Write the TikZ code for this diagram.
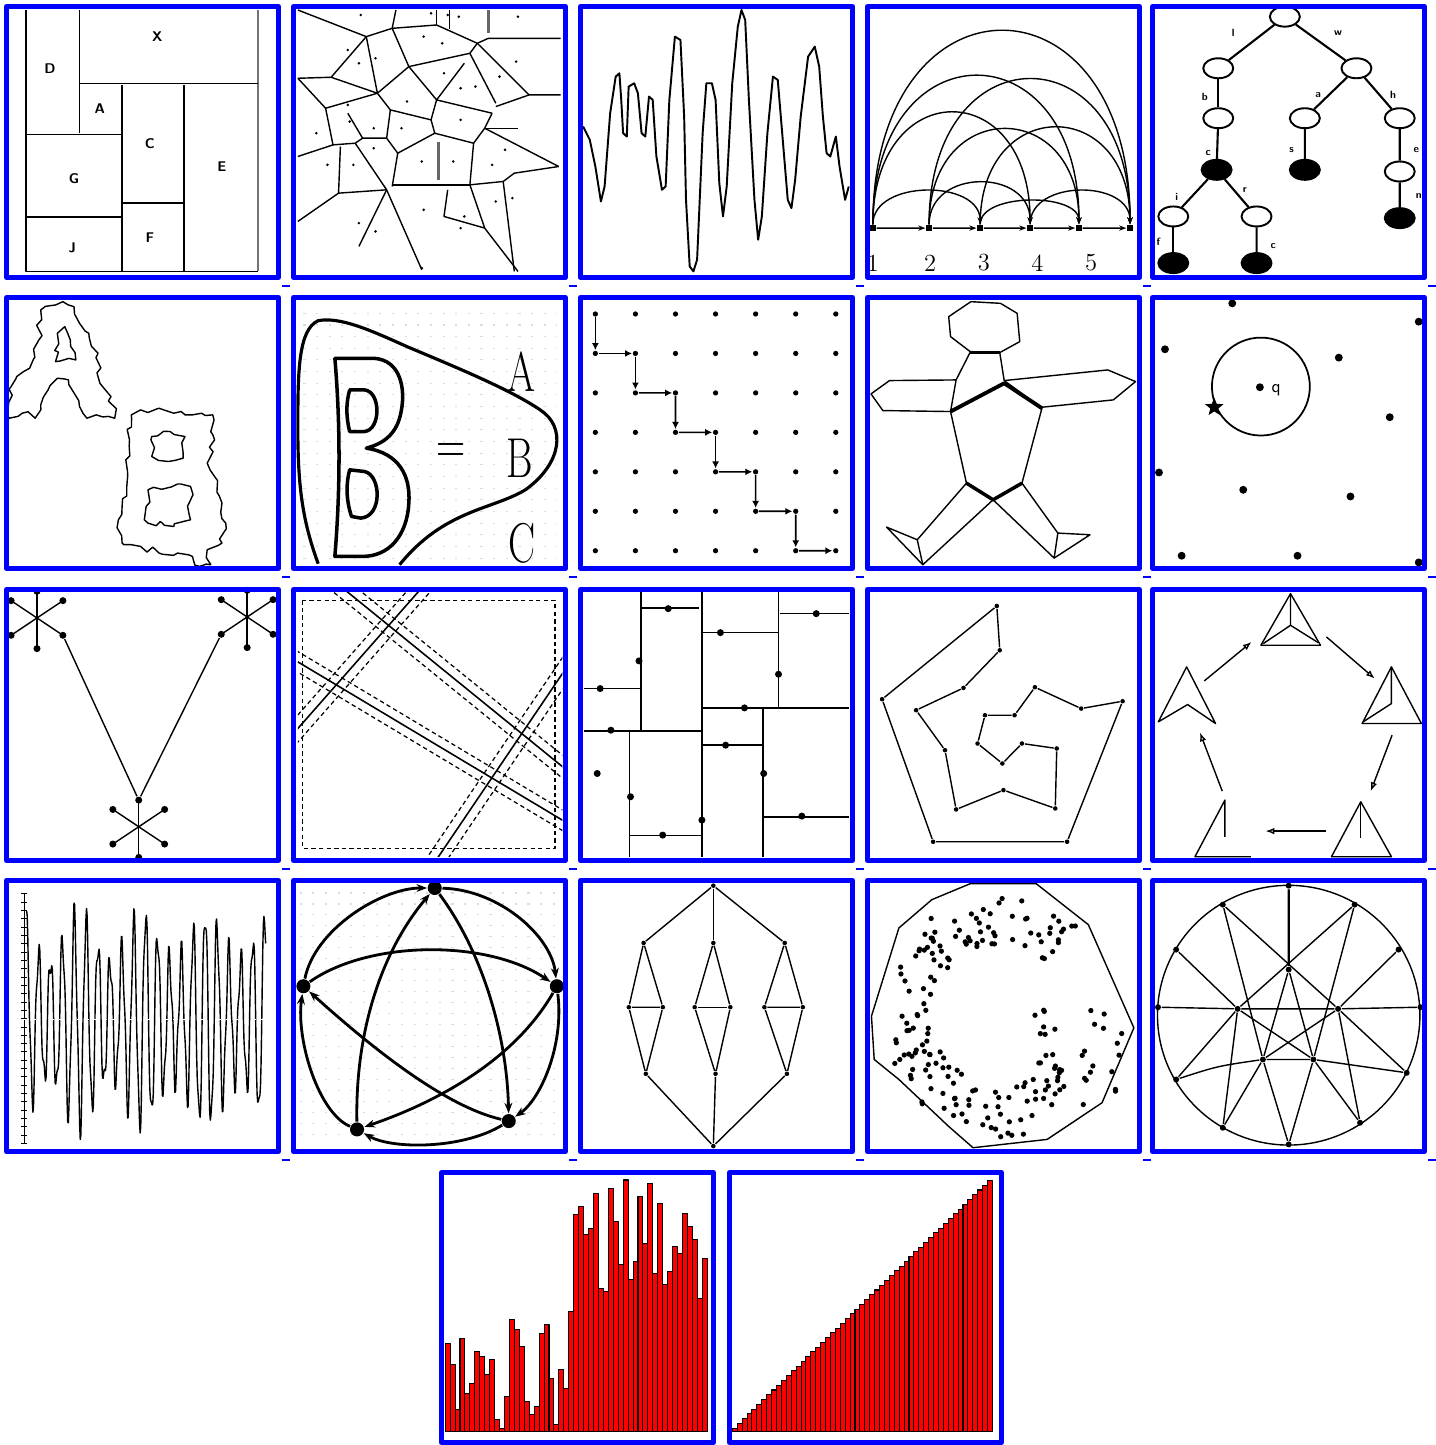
\documentclass[tikz,border=0pt]{standalone}
\usetikzlibrary{arrows.meta,shapes.geometric,decorations.pathmorphing}

\tikzset{
  frame/.style={draw=blue, line width=0.1cm},
  linkmark/.style={draw=blue, line width=0.04cm},
  dot/.style={circle, fill, inner sep=0pt, minimum size=2.6pt},
  smalldot/.style={circle, fill, inner sep=0pt, minimum size=1.6pt},
  bigdot/.style={circle, fill, inner sep=0pt, minimum size=4pt},
  blob/.style={circle, fill, inner sep=0pt, minimum size=8pt},
  sqdot/.style={rectangle, fill, inner sep=0pt, minimum size=3.5pt},
  tnode/.style={ellipse, draw, line width=1.1pt, fill=white, minimum width=0.6cm, minimum height=0.4cm, inner sep=0pt},
  tleaf/.style={tnode, fill=black},
  lbl/.style={font=\fontsize{8}{8}\selectfont\sffamily\bfseries, inner sep=0pt},
  tinylbl/.style={font=\fontsize{6}{6}\selectfont\sffamily\bfseries, inner sep=0pt},
  bigletter/.style={font=\fontsize{32}{32}\selectfont, inner sep=0pt, xscale=0.72},
  bar/.style={fill=red, draw=black, line width=0.6pt},
  gridline/.style={black!14, line width=0.6pt, dash pattern=on 1.2pt off 6pt},
  jag/.style={decorate, decoration={random steps, segment length=4pt, amplitude=2pt}},
  cut/.style={dash pattern=on 2.5pt off 1.8pt, line width=0.7pt},
  flow/.style={-{Stealth[length=4pt]}},
  thickflow/.style={line width=1.6pt, -{Stealth[length=6pt]}},
}

\begin{document}
\begin{tikzpicture}[x=0.02cm, y=-0.02cm, line width=0.8pt, line join=round]
\useasboundingbox (0,0) rectangle (1436,1445);

% ---------------- row 1, cells 1 and 2
\begin{scope}[xscale=0.37, yscale=0.333]
  % rectangle partition
  \draw (70,30) -- (70,815) -- (697,815);
  \draw[black!55, line width=1.3pt] (697,30) -- (697,815);
  \draw (215,30) -- (215,400);
  \draw (215,250) -- (697,250);
  \draw (70,403) -- (330,403);
  \draw (330,255) -- (330,815);
  \draw (497,255) -- (497,815);
  \draw (330,610) -- (497,610);
  \draw (70,652) -- (330,652);
  \node[lbl] (rX) at (425,110) {X};
  \node[lbl] (rD) at (135,205) {D};
  \node[lbl] (rA) at (270,325) {A};
  \node[lbl] (rC) at (405,430) {C};
  \node[lbl] (rG) at (200,535) {G};
  \node[lbl] (rE) at (600,500) {E};
  \node[lbl] (rF) at (405,715) {F};
  \node[lbl] (rJ) at (195,745) {J};
  % voronoi cells
  \draw (805,30) -- (990,110) -- (1060,85) -- (1070,30);
  \draw (1060,85) -- (1180,75) -- (1290,130) -- (1320,115) -- (1515,115);
  \draw (1180,30) -- (1180,75);
  \draw (1215,30) -- (1215,88);
  \draw[black!60, line width=1.5pt] (1320,30) -- (1320,100);
  \draw (990,110) -- (1020,280);
  \draw (990,110) -- (895,232) -- (805,235);
  \draw (895,232) -- (1020,280);
  \draw (1060,85) -- (1105,200) -- (1020,280);
  \draw (1105,200) -- (1270,160) -- (1290,130);
  \draw (1105,200) -- (1180,300) -- (1255,190);
  \draw (1290,130) -- (1430,285) -- (1515,285);
  \draw (1270,160) -- (1340,310);
  \draw (1180,300) -- (1330,340);
  \draw (1430,285) -- (1340,320);
  \draw (805,235) -- (880,325);
  \draw (1020,280) -- (1055,330) -- (1165,360);
  \draw (1020,280) -- (880,325) -- (900,435) -- (805,470);
  \draw (1180,300) -- (1165,360) -- (1175,400) -- (1280,430) -- (1310,385) -- (1330,340);
  \draw (1310,385) -- (1400,385);
  \draw (1310,385) -- (1510,500);
  \draw (1280,430) -- (1270,555);
  \draw (1175,400) -- (1075,460);
  \draw (1055,330) -- (1045,415) -- (1075,460) -- (1060,560);
  \draw (1045,415) -- (980,415) -- (960,430);
  \draw (940,340) -- (980,415);
  \draw (900,435) -- (960,430) -- (1045,570);
  \draw (920,440) -- (915,580) -- (1045,570);
  \draw (915,580) -- (805,665);
  \draw (1045,570) -- (1140,810);
  \draw (1045,570) -- (970,740);
  \draw (1060,555) -- (1270,555);
  \draw (1210,570) -- (1200,650) -- (1310,685);
  \draw (1270,555) -- (1310,685) -- (1400,815);
  \draw (1270,555) -- (1360,545) -- (1390,520) -- (1510,500);
  \draw (1360,545) -- (1390,815);
  \draw[black!60, line width=1.5pt] (1185,425) -- (1185,540);
  \foreach \x/\y [count=\i] in {975/45, 1165/40, 1210/45, 1240/50, 1400/50, 940/150, 1145/110, 1195/130,
      970/190, 1015/175, 1395/185, 1200/220, 1350/230, 1245/265, 1285/260, 940/315, 1100/305, 855/400,
      945/365, 1010/385, 1085/385, 1245/360, 1010/445, 1365/450, 885/495, 955/495, 1140/485, 1225/485,
      1330/495, 1340/605, 1385/595, 1145/630, 1255/650, 1245/685, 970/670, 1015/695, 1140/805}
    \node[smalldot] (vp\i) at (\x,\y) {};
\end{scope}

% ---------------- row 1, cells 3 and 4
\begin{scope}[shift={(575,0)}, xscale=0.37, yscale=0.333]
  % signal
  \draw[line width=1.1pt] plot coordinates {(22,380) (40,420) (55,500) (70,605) (80,560) (95,340) (110,230)
    (120,220) (125,300) (130,400) (140,410) (145,260) (160,250) (170,280) (180,400) (190,410) (200,290)
    (210,300) (220,470) (235,570) (245,560) (255,300) (270,110) (285,120) (295,350) (300,600) (310,800)
    (320,815) (330,780) (345,400) (355,250) (370,250) (380,300) (390,550) (400,650) (410,560) (425,250)
    (440,80) (450,30) (460,60) (470,300) (485,600) (495,720) (505,650) (520,400) (535,230) (548,240)
    (560,400) (575,600) (585,625) (595,540) (610,350) (630,170) (648,140) (660,200) (670,350) (680,460)
    (690,470) (705,410) (715,500) (730,600) (740,560)};
  % arc diagram
  \foreach \x [count=\i] in {805,957,1095,1230,1362,1500}
    \node[sqdot] (n\i) at (\x,685) {};
  \foreach \a/\b in {1/2, 2/3, 3/4, 4/5, 5/6}
    \draw[flow] (n\a) -- (n\b);
  \foreach \a/\b/\h in {1/6/590, 1/5/455, 2/6/445, 1/4/345, 2/5/295, 3/6/300, 1/3/110, 2/4/135, 3/5/80, 4/6/110}
    \draw[flow] (n\a) .. controls +(0,{-\h*1.333}) and +(0,{-\h*1.333}) .. (n\b);
  \foreach \x/\t [count=\i] in {805/1, 960/2, 1105/3, 1250/4, 1395/5}
    \node[font=\fontsize{14}{14}\selectfont, inner sep=0pt] (k\i) at (\x,790) {\t};
\end{scope}

% ---------------- row 1, cell 5 : tree
\begin{scope}[shift={(1145,0)}, scale=0.333]
  \node[tnode] (t0) at (420,50) {};
  \node[tnode] (t1) at (220,205) {};
  \node[tnode] (t2) at (635,205) {};
  \node[tnode] (t3) at (220,355) {};
  \node[tnode] (t4) at (480,355) {};
  \node[tnode] (t5) at (765,355) {};
  \node[tleaf] (t6) at (215,510) {};
  \node[tleaf] (t7) at (480,510) {};
  \node[tnode] (t8) at (765,515) {};
  \node[tnode] (t9) at (85,650) {};
  \node[tnode] (t10) at (335,650) {};
  \node[tleaf] (t11) at (765,655) {};
  \node[tleaf] (t12) at (85,790) {};
  \node[tleaf] (t13) at (335,790) {};
  \foreach \a/\b in {0/1, 0/2, 1/3, 3/6, 2/4, 2/5, 4/7, 5/8, 8/11, 6/9, 6/10, 9/12, 10/13}
    \draw[line width=1.2pt] (t\a) -- (t\b);
  \node[tinylbl] (e1) at (265,100) {l};
  \node[tinylbl] (e2) at (580,100) {w};
  \node[tinylbl] (e3) at (180,290) {b};
  \node[tinylbl] (e4) at (520,285) {a};
  \node[tinylbl] (e5) at (745,285) {h};
  \node[tinylbl] (e6) at (190,460) {c};
  \node[tinylbl] (e7) at (440,450) {s};
  \node[tinylbl] (e8) at (815,450) {e};
  \node[tinylbl] (e9) at (822,590) {n};
  \node[tinylbl] (e10) at (95,590) {i};
  \node[tinylbl] (e11) at (300,572) {r};
  \node[tinylbl] (e12) at (40,725) {f};
  \node[tinylbl] (e13) at (385,740) {c};
\end{scope}

% ---------------- row 2, cells 6 and 7
\begin{scope}[shift={(0,290)}, xscale=0.37, yscale=0.333]
  % pixel letters
  \draw[jag] (25,385) -- (30,290) -- (45,260) -- (80,235) -- (105,150) -- (110,60) -- (150,45) -- (170,35)
    -- (200,50) -- (215,100) -- (240,130) -- (265,190) -- (270,280) -- (300,320) -- (310,385) -- (260,375)
    -- (235,385) -- (215,350) -- (185,270) -- (155,265) -- (130,300) -- (110,345) -- (95,385) -- (60,370) -- cycle;
  \draw[jag] (150,215) -- (155,130) -- (175,110) -- (190,150) -- (205,210) -- cycle;
  \draw[jag] (355,375) -- (380,360) -- (430,355) -- (470,370) -- (520,375) -- (545,370) -- (575,375)
    -- (580,450) -- (560,520) -- (580,560) -- (600,640) -- (610,700) -- (600,760) -- (560,780) -- (570,825)
    -- (540,830) -- (520,800) -- (480,790) -- (430,790) -- (380,770) -- (330,760) -- (320,690) -- (330,650)
    -- (345,560) -- (340,510) -- (350,450) -- cycle;
  \draw[jag] (410,440) -- (460,425) -- (500,440) -- (495,505) -- (455,515) -- (410,500) -- cycle;
  \draw[jag] (400,600) -- (515,590) -- (515,690) -- (470,710) -- (400,700) -- (395,650) -- cycle;
  % dotted background
  \foreach \j in {0,...,21}
    \draw[gridline] (820,70+35*\j) -- (1505,70+35*\j);
  % region border
  \draw[line width=1.8pt] (860,822) .. controls (820,700) and (805,600) .. (805,420)
    .. controls (805,250) and (805,120) .. (860,92) .. controls (920,80) and (1000,120) .. (1100,170)
    .. controls (1250,240) and (1380,300) .. (1460,360) .. controls (1530,410) and (1520,520) .. (1420,600)
    .. controls (1330,660) and (1200,660) .. (1080,825);
  % big letter B
  \draw[line width=2pt] (905,205) -- (1010,205) .. controls (1085,210) and (1095,300) .. (1085,360)
    .. controls (1075,430) and (1040,460) .. (990,475) .. controls (1080,490) and (1110,560) .. (1105,640)
    .. controls (1100,740) and (1050,800) .. (980,800) -- (905,800) .. controls (920,600) and (920,400) .. cycle;
  \draw[line width=2pt] (945,300) -- (985,300) .. controls (1030,305) and (1030,420) .. (985,425) -- (945,425)
    .. controls (935,380) and (935,340) .. cycle;
  \draw[line width=2pt] (945,540) -- (985,545) .. controls (1030,555) and (1035,680) .. (975,685) -- (950,680)
    .. controls (935,630) and (935,580) .. cycle;
  \node[bigletter] (bA) at (1410,245) {A};
  \node[bigletter] (bEq) at (1218,490) {=};
  \node[bigletter] (bB) at (1405,505) {B};
  \node[bigletter] (bC) at (1410,760) {C};
\end{scope}

% ---------------- row 2, cells 8 and 9
\begin{scope}[shift={(575,290)}, xscale=0.37, yscale=0.333]
  % staircase on a grid
  \foreach \i in {1,...,7}
    \foreach \j in {1,...,7}
      \node[dot, minimum size=3pt] (g\i\j) at ({55+108.3*(\i-1)},{72+118.5*(\j-1)}) {};
  \foreach \a/\b in {11/12, 12/22, 22/23, 23/33, 33/34, 34/44, 44/45, 45/55, 55/56, 56/66, 66/67, 67/77}
    \draw[-{Latex[length=4pt,width=4pt]}, line width=0.9pt] (g\a) -- (g\b);
  % stick figure
  \draw (1070,35) -- (1150,40) -- (1195,70) -- (1202,155) -- (1148,188) -- (1068,185) -- (1015,140) -- (1010,80) -- cycle;
  \draw[line width=1.8pt] (1068,187) -- (1148,187);
  \draw (1068,187) -- (1030,270) -- (1015,365) -- (1058,580);
  \draw (1148,188) -- (1160,272) -- (1262,355) -- (1208,580);
  \draw[line width=2.2pt] (1015,365) -- (1160,280) -- (1262,355);
  \draw[line width=2pt] (1058,580) -- (1130,630) -- (1208,580);
  \draw (1030,270) -- (850,272) -- (800,312) -- (832,362) -- (1015,365);
  \draw (1160,272) -- (1440,240) -- (1515,275) -- (1455,330) -- (1262,352);
  \draw (1058,580) -- (925,750) -- (940,825) -- (1130,630) -- (1295,805) -- (1305,730) -- (1208,580);
  \draw (925,750) -- (842,712) -- (940,825);
  \draw (1305,730) -- (1392,735) -- (1295,805);
\end{scope}

% ---------------- row 2, cell 10
\begin{scope}[shift={(1145,290)}, scale=0.333]
  \foreach \x/\y [count=\i] in {262/40, 822/95, 60/178, 582/203, 735/382, 42/548, 295/600, 617/620, 110/798, 458/798, 822/818}
    \node[dot, minimum size=4.5pt] (q\i) at (\x,\y) {};
  \draw[line width=1pt] (348,290) circle[radius=147];
  \node[dot, minimum size=4.5pt] (qc) at (345,292) {};
  \node[font=\fontsize{10}{10}\selectfont\sffamily, inner sep=0pt, anchor=west] (ql) at (378,300) {q};
  \node[star, star points=5, star point ratio=2.3, fill, inner sep=0pt, minimum size=11pt] (qs) at (208,352) {};
\end{scope}

% ---------------- row 3, cells 11 and 12
\begin{scope}[shift={(0,582)}, xscale=0.37, yscale=0.333]
  % three stars
  \foreach \cx/\cy [count=\s] in {100/108, 668/105, 375/735}
    \foreach \dx/\dy [count=\k] in {0/-80, 0/92, -70/-52, 70/-52, -70/52, 70/52}
      \draw ({\cx},{\cy}) -- ({\cx+(\dx)},{\cy+(\dy)}) node[bigdot] (s\s k\k) {};
  \draw (s1k6) -- (s3k1) -- (s2k5);
  % strips
  \begin{scope}
    \clip (805,30) rectangle (1520,825);
    \draw[cut] (818,55) rectangle (1500,800);
    \foreach \ax/\ay/\bx/\by/\nx/\ny in {823/-75/1637/660/15/-21, 1195/-52/740/522/18/18,
        700/170/1625/785/12/-23, 1587/165/1118/935/20/15} {
      \draw[line width=0.9pt] (\ax,\ay) -- (\bx,\by);
      \draw[cut] ({\ax+(\nx)},{\ay+(\ny)}) -- ({\bx+(\nx)},{\by+(\ny)});
      \draw[cut] ({\ax-(\nx)},{\ay-(\ny)}) -- ({\bx-(\nx)},{\by-(\ny)});
    }
  \end{scope}
\end{scope}

% ---------------- row 3, cells 13 and 14
\begin{scope}[shift={(575,582)}, xscale=0.37, yscale=0.333]
  % kd partition
  \draw (178,30) -- (178,445);
  \draw (180,78) -- (335,78);
  \draw (343,30) -- (343,825);
  \draw (343,152) -- (550,152);
  \draw (550,30) -- (550,375);
  \draw (555,95) -- (740,95);
  \draw (25,320) -- (175,320);
  \draw (25,448) -- (343,448);
  \draw (343,378) -- (740,378);
  \draw (148,450) -- (148,825);
  \draw (343,490) -- (508,490);
  \draw (508,378) -- (508,825);
  \draw (148,762) -- (343,762);
  \draw (510,706) -- (740,706);
  \foreach \x/\y [count=\i] in {252/80, 393/152, 550/277, 652/95, 68/320, 173/237, 97/445, 458/378,
      150/645, 407/490, 510/575, 60/575, 237/760, 343/715, 613/703}
    \node[bigdot] (r\i) at (\x,\y) {};
  % spiral polygon
  \foreach \x/\y [count=\i] in {1140/72, 1148/205, 1050/318, 922/385, 1000/505, 1030/683, 1158/625, 1298/680,
      1302/500, 1208/485, 1155/545, 1088/485, 1108/400, 1188/400, 1243/316, 1368/380, 1480/358, 1330/780,
      968/780, 830/352}
    \node[dot] (sp\i) at (\x,\y) {};
  \draw (sp1) -- (sp2) -- (sp3) -- (sp4) -- (sp5) -- (sp6) -- (sp7) -- (sp8) -- (sp9) -- (sp10)
    -- (sp11) -- (sp12) -- (sp13) -- (sp14) -- (sp15) -- (sp16) -- (sp17) -- (sp18) -- (sp19) -- (sp20) -- (sp1);
\end{scope}

% ---------------- row 3, cell 15
\begin{scope}[shift={(1145,582)}, scale=0.333]
  \draw (437,35) -- (527,190) -- (348,190) -- cycle;
  \draw (437,35) -- (437,130) -- (355,185);
  \draw (437,130) -- (520,182);
  \draw (740,255) -- (830,425) -- (652,425) -- cycle;
  \draw (740,255) -- (740,365) -- (655,420);
  \draw (648,660) -- (740,825) -- (560,825) -- cycle;
  \draw (648,660) -- (648,770);
  \draw (318,825) -- (150,825) -- (240,655) -- (240,765);
  \draw (40,420) -- (125,255) -- (212,425) -- (128,368) -- cycle;
  \coordinate (w1) at (178,297);
  \coordinate (w2) at (320,180);
  \coordinate (w3) at (545,165);
  \coordinate (w4) at (690,290);
  \coordinate (w5) at (742,460);
  \coordinate (w6) at (678,628);
  \coordinate (w7) at (545,748);
  \coordinate (w8) at (362,748);
  \coordinate (w9) at (232,628);
  \coordinate (w10) at (165,452);
  \foreach \a/\b in {1/2, 3/4, 5/6, 7/8, 9/10}
    \draw[-{Latex[open,length=5pt]}] (w\a) -- (w\b);
\end{scope}

% ---------------- row 4, cells 16 and 17
\begin{scope}[shift={(0,873)}, xscale=0.37, yscale=0.333]
  % oscillation
  \draw[line width=0.4pt] (65,62) -- (65,812);
  \foreach \k in {0,...,30}
    \draw[line width=0.4pt] (58,62+25*\k) -- (72,62+25*\k);
  \draw[line width=0.8pt] plot[domain=72:718, samples=420]
    (\x, {440 - (250+70*sin(2.1*\x))*sin(11.2*\x) - 45*sin(31*mod(\x,11.6129))});
  \draw[white, line width=0.5pt, dash pattern=on 2pt off 3pt] (65,440) -- (725,440);
  % pentagram graph
  \foreach \j in {0,...,22}
    \draw[gridline] (810,60+33*\j) -- (1515,60+33*\j);
  \node[blob] (v1) at (1175,45) {};
  \node[blob] (v2) at (1505,340) {};
  \node[blob] (v3) at (1375,745) {};
  \node[blob] (v4) at (965,770) {};
  \node[blob] (v5) at (820,340) {};
  \draw[thickflow] (v5) .. controls (850,170) and (1030,45) .. (v1);
  \draw[thickflow] (v1) .. controls (1350,50) and (1490,190) .. (v2);
  \draw[thickflow] (v2) .. controls (1525,520) and (1460,680) .. (v3);
  \draw[thickflow] (v3) .. controls (1250,830) and (1060,830) .. (v4);
  \draw[thickflow] (v4) .. controls (860,720) and (800,500) .. (v5);
  \draw[thickflow] (v5) .. controls (1000,200) and (1320,200) .. (v2);
  \draw[thickflow] (v4) .. controls (960,500) and (1020,250) .. (v1);
  \draw[thickflow] (v1) .. controls (1300,230) and (1370,480) .. (v3);
  \draw[thickflow] (v3) .. controls (1200,700) and (1000,520) .. (v5);
  \draw[thickflow] (v2) .. controls (1380,580) and (1150,700) .. (v4);
\end{scope}

% ---------------- row 4, cells 18, 19 and 20
\begin{scope}[shift={(575,873)}, xscale=0.549, yscale=0.333]
  % lattice graph
  \node[dot] (la) at (252,38) {};
  \node[dot] (lz) at (252,820) {};
  \foreach \x [count=\i] in {125,252,382} {
    \node[dot] (lu\i) at (\x,210) {};
    \node[dot] (ll\i) at (\x+4,603) {};
  }
  \foreach \x [count=\i] in {98,160,218,283,345,415}
    \node[dot] (lm\i) at (\x,403) {};
  \foreach \i in {1,2,3} {
    \draw (la) -- (lu\i);
    \draw (lz) -- (ll\i);
  }
  \foreach \u/\p/\q in {1/1/2, 2/3/4, 3/5/6} {
    \draw (lu\u) -- (lm\p) -- (ll\u) -- (lm\q) -- (lu\u);
    \draw (lm\p) -- (lm\q);
  }
  % point set in a polygon
  \draw (720,32) -- (840,32) -- (935,155) -- (1018,465) -- (960,690) -- (860,800) -- (725,825) -- (680,760)
    -- (590,620) -- (545,560) -- (540,430) -- (590,165) -- (650,80) -- cycle;
  % triangulated disc
  \draw (1300,427) ellipse[x radius=239, y radius=390];
  \foreach \x/\y [count=\i] in {1300/38, 1420/95, 1500/230, 1540/403, 1515/600, 1430/750, 1300/815,
      1180/765, 1095/620, 1062/403, 1095/230, 1180/95}
    \node[dot, minimum size=3.4pt] (o\i) at (\x,\y) {};
  \foreach \x/\y [count=\i] in {1300/290, 1207/408, 1390/408, 1253/560, 1345/560}
    \node[dot, minimum size=3.4pt] (i\i) at (\x,\y) {};
  \draw (o10) -- (i2) -- (i3) -- (o4);
  \draw[line width=1.2pt] (o1) -- (i1);
  \foreach \a/\b in {12/4, 12/3, 2/5, 2/2, 11/2, 3/3, 9/2, 5/3, 8/4, 8/2, 6/5, 6/3, 7/4, 7/5}
    \draw (o\a) -- (i\b);
  \foreach \a/\b in {1/4, 1/5, 2/5, 3/4}
    \draw (i\a) -- (i\b);
  \draw (o9) .. controls (1170,580) .. (i4) -- (i5) .. controls (1430,580) .. (o5);
\end{scope}

% dots of cell 19
\pgfmathsetseed{11}
\foreach \k in {1,...,160} {
  \pgfmathsetmacro{\ang}{51+268*rnd}
  \pgfmathsetmacro{\rad}{70+52*rnd}
  \fill ({1003+\rad*cos(\ang)},{1016-\rad*sin(\ang)}) circle[radius=1.5pt];
}
\foreach \k in {1,...,34} {
  \pgfmathsetmacro{\gx}{1035+88*rnd}
  \pgfmathsetmacro{\gy}{1010+82*rnd}
  \fill (\gx,\gy) circle[radius=1.5pt];
}

% ---------------- row 5, bar charts
\begin{scope}[shift={(435,1165)}, xscale=0.3635, yscale=0.333]
  \foreach \t [count=\i from 0] in {535,600,735,520,685,655,560,575,630,585,765,790,695,465,495,545,710,750,
      725,505,480,640,780,615,670,440,150,125,210,190,85,370,380,70,170,300,45,345,290,95,235,55,325,115,
      360,320,245,265,145,185,225,400,280}
    \draw[bar] ({28+13.6*\i},800) rectangle ({41.6+13.6*\i},\t);
  \foreach \i in {0,...,52}
    \draw[bar] ({818+13.5*\i},800) rectangle ({831.5+13.5*\i},{790-14.3*\i});
\end{scope}

% ---------------- frames
\foreach \fx/\fy in {4/4, 291/4, 578/4, 865/4, 1150/4, 4/295, 291/295, 578/295, 865/295, 1150/295,
    4/587, 291/587, 578/587, 865/587, 1150/587, 4/878, 291/878, 578/878, 865/878, 1150/878} {
  \draw[frame] (\fx+2.5,\fy+2.5) rectangle (\fx+274.5,\fy+273.5);
  \draw[linkmark] (\fx+278,\fy+281.5) -- (\fx+286,\fy+281.5);
}
\foreach \fx in {439, 727}
  \draw[frame] (\fx+2.5,1172.5) rectangle (\fx+274.5,1442.5);
\end{tikzpicture}
\end{document}
